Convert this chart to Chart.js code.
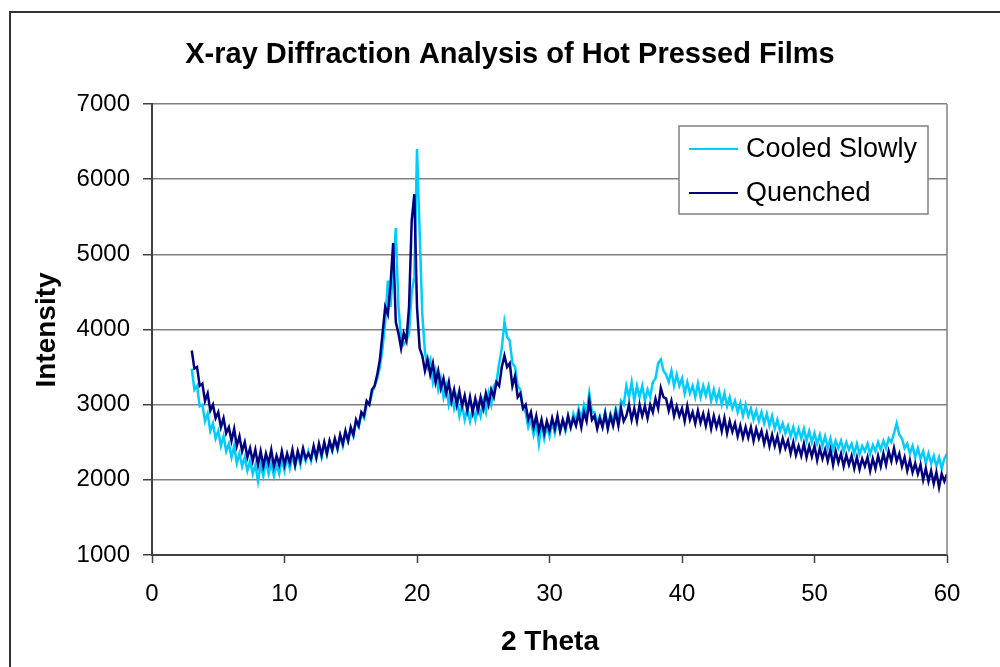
<!DOCTYPE html>
<html>
<head>
<meta charset="utf-8">
<script src="https://cdn.jsdelivr.net/npm/chart.js@4.4.1/dist/chart.umd.min.js"></script>
<style>
  html, body { margin: 0; padding: 0; background: #fff; }
  #wrap { width: 1000px; height: 667px; position: relative; }
</style>
</head>
<body>
<div id="wrap"><canvas id="xrd" width="1000" height="667"></canvas></div>
<script>
const TITLE = "X-ray Diffraction Analysis of Hot Pressed Films";
const X_TITLE = "2 Theta";
const Y_TITLE = "Intensity";
const SERIES_NAMES = ["Cooled Slowly", "Quenched"];
const X_TICKS = [0, 10, 20, 30, 40, 50, 60];
const Y_TICKS = [1000, 2000, 3000, 4000, 5000, 6000, 7000];

// scan grid: 2-theta from 3 to 60 degrees, read every 0.2 degrees
const THETA_START = 3;
const THETA_STEP = 0.2;

// five readings per degree (x.0, x.2, x.4, x.6, x.8), last value is 60.0
const cooledSlowly = [
  3480, 3200, 3250, 2980, 3000,
  2780, 2880, 2650, 2750, 2550,
  2650, 2450, 2580, 2380, 2480,
  2300, 2450, 2220, 2350, 2180,
  2300, 2120, 2250, 2080, 2200,
  1980, 2200, 2050, 2250, 2080,
  2220, 2050, 2200, 2080, 2280,
  2120, 2300, 2150, 2320, 2180,
  2350, 2200, 2380, 2250, 2380,
  2250, 2420, 2280, 2450, 2300,
  2480, 2330, 2500, 2380, 2520,
  2400, 2580, 2450, 2620, 2520,
  2680, 2580, 2780, 2700, 2880,
  2820, 3000, 3000, 3150, 3250,
  3350, 3500, 3750, 4100, 4650,
  4300, 4800, 5350, 4300, 3900,
  3800, 3850, 3950, 4500, 4700,
  6400, 5300, 4200, 3700, 3500,
  3600, 3300, 3450, 3200, 3350,
  3100, 3250, 3000, 3150, 2950,
  3100, 2850, 3000, 2800, 2950,
  2780, 2950, 2800, 3000, 2850,
  3050, 2900, 3150, 3000, 3250,
  3300, 3550, 3750, 4100, 3900,
  3850, 3550, 3500, 3250, 3200,
  2950, 2900, 2700, 2800, 2600,
  2750, 2480, 2750, 2550, 2720,
  2580, 2780, 2620, 2800, 2650,
  2780, 2650, 2850, 2700, 2880,
  2780, 2950, 2800, 3000, 2880,
  3150, 2900, 2900, 2750, 2850,
  2720, 2900, 2700, 2880, 2780,
  2950, 2800, 3050, 3000, 3250,
  3100, 3300, 3050, 3250, 3100,
  3250, 3050, 3200, 3100, 3300,
  3350, 3550, 3600, 3450, 3400,
  3300, 3450, 3250, 3400, 3250,
  3350, 3150, 3300, 3150, 3250,
  3100, 3280, 3100, 3250, 3120,
  3250, 3050, 3200, 3050, 3180,
  3000, 3150, 2980, 3100, 2950,
  3050, 2900, 3020, 2850, 3000,
  2850, 2950, 2800, 2920, 2780,
  2900, 2750, 2880, 2720, 2850,
  2680, 2800, 2650, 2750, 2620,
  2720, 2580, 2700, 2550, 2680,
  2550, 2680, 2520, 2650, 2500,
  2620, 2480, 2600, 2450, 2580,
  2420, 2550, 2400, 2520, 2420,
  2520, 2380, 2500, 2400, 2480,
  2350, 2480, 2340, 2450, 2380,
  2480, 2340, 2460, 2380, 2500,
  2400, 2520, 2420, 2550, 2500,
  2620, 2750, 2600, 2550, 2420,
  2480, 2350, 2450, 2300, 2420,
  2280, 2380, 2220, 2350, 2220,
  2320, 2180, 2300, 2150, 2280,
  2350,
];

const quenched = [
  3720, 3480, 3500, 3250, 3280,
  3050, 3150, 2920, 3000, 2820,
  2900, 2700, 2820, 2620, 2700,
  2520, 2680, 2450, 2580, 2380,
  2500, 2300, 2420, 2250, 2400,
  2200, 2380, 2180, 2350, 2220,
  2400, 2180, 2320, 2200, 2380,
  2200, 2350, 2230, 2400, 2200,
  2380, 2250, 2420, 2280, 2350,
  2280, 2450, 2300, 2480, 2330,
  2500, 2350, 2520, 2400, 2550,
  2420, 2600, 2480, 2650, 2520,
  2700, 2600, 2800, 2720, 2900,
  2850, 3050, 3000, 3200, 3250,
  3400, 3600, 3950, 4300, 4200,
  4600, 5150, 4100, 3950, 3750,
  3950, 3850, 4300, 5450, 5800,
  4300, 3750, 3650, 3450, 3600,
  3400, 3550, 3300, 3450, 3220,
  3350, 3150, 3300, 3050, 3200,
  3000, 3180, 2980, 3120, 2920,
  3100, 2900, 3080, 2920, 3100,
  2950, 3150, 3000, 3200, 3100,
  3300, 3250, 3500, 3650, 3500,
  3550, 3250, 3380, 3100, 3150,
  2950, 3000, 2800, 2900, 2700,
  2850, 2650, 2800, 2620, 2780,
  2650, 2820, 2680, 2850, 2650,
  2800, 2680, 2850, 2700, 2820,
  2720, 2880, 2700, 2900, 2780,
  3050, 2800, 2850, 2680, 2820,
  2700, 2880, 2680, 2850, 2720,
  2900, 2720, 2950, 2780, 2850,
  3000, 2800, 2950, 2780, 3000,
  2850, 2980, 2820, 3000, 2900,
  3080, 2950, 3220, 3100, 3080,
  2920, 3050, 2850, 2980, 2850,
  2950, 2780, 2980, 2800, 2900,
  2750, 2920, 2760, 2880, 2720,
  2880, 2680, 2850, 2700, 2820,
  2650, 2820, 2620, 2780, 2640,
  2750, 2580, 2720, 2560, 2700,
  2560, 2700, 2520, 2680, 2550,
  2650, 2480, 2620, 2450, 2600,
  2450, 2580, 2400, 2550, 2420,
  2520, 2350, 2500, 2330, 2450,
  2320, 2480, 2300, 2450, 2310,
  2450, 2260, 2420, 2280, 2400,
  2250, 2400, 2200, 2380, 2230,
  2350, 2180, 2330, 2200, 2320,
  2150, 2300, 2140, 2280, 2180,
  2300, 2120, 2280, 2150, 2320,
  2180, 2350, 2200, 2380, 2250,
  2420, 2250, 2350, 2180, 2300,
  2120, 2260, 2100, 2220, 2080,
  2200, 2000, 2150, 1980, 2120,
  1950, 2100, 1900, 2080, 1980,
  2080,
];

const COLORS = ["#00ccff", "#000080"];
const FONT = "'Liberation Sans', Arial, sans-serif";

function toPoints(values) {
  return values.map((v, i) => ({ x: +(THETA_START + i * THETA_STEP).toFixed(2), y: v }));
}

// Excel-style frame, titles and legend box drawn on the canvas
const decor = {
  id: "decor",
  beforeDraw(chart) {
    const ctx = chart.ctx;
    ctx.save();
    ctx.fillStyle = "#fff";
    ctx.fillRect(0, 0, chart.width, chart.height);
    ctx.strokeStyle = "#333";
    ctx.lineWidth = 2;
    ctx.beginPath();
    ctx.moveTo(10, chart.height);
    ctx.lineTo(10, 12);
    ctx.lineTo(chart.width, 12);
    ctx.stroke();
    ctx.restore();
  },
  afterDraw(chart) {
    const ctx = chart.ctx;
    const a = chart.chartArea;
    ctx.save();
    // plot area border on the right side
    ctx.strokeStyle = "#808080";
    ctx.lineWidth = 1.5;
    ctx.beginPath();
    ctx.moveTo(a.right, a.top);
    ctx.lineTo(a.right, a.bottom);
    ctx.stroke();

    ctx.fillStyle = "#000";
    ctx.textAlign = "center";
    ctx.textBaseline = "middle";
    ctx.font = "bold 29px " + FONT;
    ctx.fillText(TITLE, 510, 55);
    ctx.font = "bold 28px " + FONT;
    ctx.fillText(X_TITLE, 550, 642);
    ctx.translate(47, 330);
    ctx.rotate(-Math.PI / 2);
    ctx.fillText(Y_TITLE, 0, 0);
    ctx.restore();

    // legend
    ctx.save();
    ctx.fillStyle = "#fff";
    ctx.fillRect(679, 126, 249, 88);
    ctx.strokeStyle = "#808080";
    ctx.lineWidth = 1.5;
    ctx.strokeRect(679, 126, 249, 88);
    ctx.font = "27px " + FONT;
    ctx.textAlign = "left";
    ctx.textBaseline = "middle";
    const rows = [149, 193];
    SERIES_NAMES.forEach((name, i) => {
      ctx.strokeStyle = COLORS[i];
      ctx.lineWidth = 2;
      ctx.beginPath();
      ctx.moveTo(689, rows[i]);
      ctx.lineTo(738, rows[i]);
      ctx.stroke();
      ctx.fillStyle = "#000";
      ctx.fillText(name, 746, rows[i] + 1);
    });
    ctx.restore();
  },
};

new Chart(document.getElementById("xrd"), {
  type: "line",
  data: {
    datasets: [
      {
        label: SERIES_NAMES[0], data: toPoints(cooledSlowly),
        borderColor: COLORS[0], borderWidth: 2.5, pointRadius: 0, tension: 0, order: 1,
      },
      {
        label: SERIES_NAMES[1], data: toPoints(quenched),
        borderColor: COLORS[1], borderWidth: 2.5, pointRadius: 0, tension: 0, order: 0,
      },
    ],
  },
  options: {
    responsive: false,
    animation: false,
    layout: { padding: { top: 104, right: 53, bottom: 0, left: 0 } },
    plugins: { legend: { display: false }, title: { display: false }, tooltip: { enabled: false } },
    scales: {
      x: {
        type: "linear", min: X_TICKS[0], max: X_TICKS[X_TICKS.length - 1],
        afterFit: (s) => { s.height = 112; },
        afterBuildTicks: (s) => { s.ticks = X_TICKS.map((v) => ({ value: v })); },
        grid: { drawOnChartArea: false, tickLength: 8, tickColor: "#404040", tickWidth: 1.5 },
        border: { color: "#404040", width: 2 },
        ticks: { font: { family: FONT, size: 24 }, color: "#000", padding: 17, maxRotation: 0,
          callback: (v) => String(v) },
      },
      y: {
        min: Y_TICKS[0], max: Y_TICKS[Y_TICKS.length - 1],
        afterFit: (s) => { s.width = 152; },
        afterBuildTicks: (s) => { s.ticks = Y_TICKS.map((v) => ({ value: v })); },
        grid: { color: "#808080", lineWidth: 1.5, tickLength: 9, tickColor: "#404040" },
        border: { color: "#404040", width: 2 },
        ticks: { font: { family: FONT, size: 24 }, color: "#000", padding: 13,
          callback: (v) => String(v) },
      },
    },
  },
  plugins: [decor],
});
</script>
</body>
</html>
